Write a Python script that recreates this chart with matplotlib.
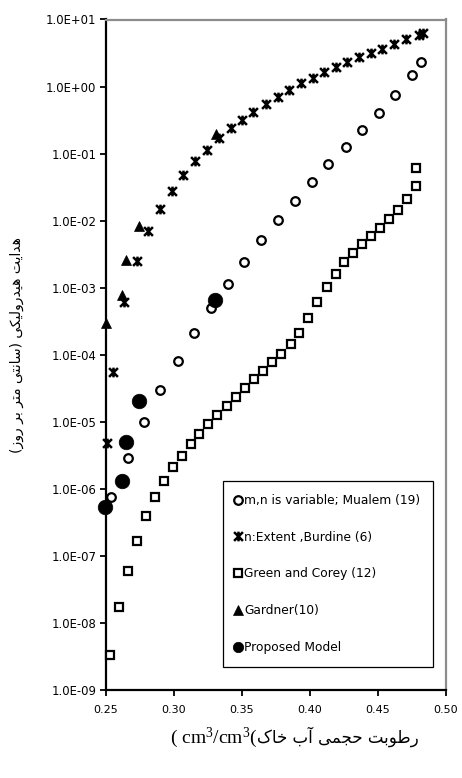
import matplotlib
matplotlib.use("Agg")
import matplotlib.pyplot as plt
from matplotlib.path import Path
from matplotlib.ticker import FixedLocator, FuncFormatter, NullLocator

plt.rcParams['mathtext.fontset'] = 'custom'
plt.rcParams['mathtext.rm'] = 'Liberation Serif'
plt.rcParams['mathtext.it'] = 'Liberation Serif'
plt.rcParams['mathtext.default'] = 'rm'

# ---------------- data ----------------
mualem_x = [0.2535, 0.266, 0.278, 0.290, 0.3027, 0.3148, 0.327, 0.340, 0.3515, 0.3641,
            0.3768, 0.3891, 0.4014, 0.4136, 0.4264, 0.4386, 0.4511, 0.4628, 0.4754, 0.4818]
mualem_y = [7.6e-7, 2.9e-6, 9.8e-6, 2.95e-5, 8.2e-5, 2.1e-4, 4.9e-4, 1.13e-3, 2.45e-3, 5.1e-3,
            1.02e-2, 1.99e-2, 3.73e-2, 6.9e-2, 1.27e-1, 2.25e-1, 4.07e-1, 7.48e-1, 1.49, 2.32]

burdine_x = [0.251, 0.2554, 0.2635, 0.2726, 0.2811, 0.2897, 0.2983, 0.3069, 0.3155, 0.3241,
             0.3334, 0.3418, 0.3503, 0.3584, 0.3675, 0.3763, 0.3849, 0.3935, 0.4021, 0.4106,
             0.4192, 0.4276, 0.4364, 0.445, 0.4536, 0.4621, 0.4712, 0.4803, 0.4835]
burdine_y = [4.9e-6, 5.5e-5, 6.2e-4, 2.5e-3, 7.0e-3, 1.48e-2, 2.8e-2, 4.86e-2, 7.8e-2, 0.114,
             0.169, 0.238, 0.317, 0.42, 0.55, 0.706, 0.89, 1.12, 1.36, 1.67,
             1.98, 2.35, 2.79, 3.2, 3.67, 4.27, 5.07, 5.87, 6.2]

green_x = [0.2529, 0.2596, 0.2659, 0.2726, 0.2792, 0.2858, 0.2929, 0.2995, 0.3062, 0.3125,
           0.3187, 0.3251, 0.3317, 0.3388, 0.3454, 0.3521, 0.3589, 0.3653, 0.3719, 0.379,
           0.3859, 0.3923, 0.3989, 0.4055, 0.4124, 0.419, 0.4251, 0.432, 0.4386, 0.445,
           0.4516, 0.4582, 0.4651, 0.4717, 0.4786, 0.4786]
green_y = [3.3e-9, 1.75e-8, 6.0e-8, 1.67e-7, 3.9e-7, 7.6e-7, 1.32e-6, 2.1e-6, 3.1e-6, 4.6e-6,
           6.6e-6, 9.3e-6, 1.28e-5, 1.74e-5, 2.37e-5, 3.23e-5, 4.35e-5, 5.8e-5, 7.7e-5, 1.03e-4,
           1.45e-4, 2.13e-4, 3.5e-4, 6.2e-4, 1.03e-3, 1.6e-3, 2.4e-3, 3.3e-3, 4.5e-3, 5.9e-3,
           7.9e-3, 1.06e-2, 1.44e-2, 2.1e-2, 3.29e-2, 6.17e-2]

gardner_x = [0.25, 0.2615, 0.2647, 0.2745, 0.3311]
gardner_y = [2.94e-4, 7.8e-4, 2.59e-3, 8.3e-3, 0.194]

proposed_x = [0.2495, 0.2618, 0.2647, 0.274, 0.3305]
proposed_y = [5.3e-7, 1.32e-6, 5.05e-6, 2.07e-5, 6.6e-4]

series_labels = ["m,n is variable; Mualem (19)", "n:Extent ,Burdine (6)",
                 "Green and Corey (12)", "Gardner(10)", "Proposed Model"]
x_ticks = [0.25, 0.30, 0.35, 0.40, 0.45, 0.50]
y_ticks = [1e-9, 1e-8, 1e-7, 1e-6, 1e-5, 1e-4, 1e-3, 1e-2, 1e-1, 1e0, 1e1]

y_label_text = "هدایت هیدرولیکی (سانتی متر بر روز)"
x_label_fa = "رطوبت حجمی آب خاک"
x_label_unit = r"( cm$^3$/cm$^3$("

# ---------------- minimal Persian shaping (visual order) ----------------
FORMS = {  # isolated, final, initial, medial
    'ا': ('\uFE8D', '\uFE8E', None, None),
    'آ': ('\uFE81', '\uFE82', None, None),
    'ب': ('\uFE8F', '\uFE90', '\uFE91', '\uFE92'),
    'ت': ('\uFE95', '\uFE96', '\uFE97', '\uFE98'),
    'ج': ('\uFE9D', '\uFE9E', '\uFE9F', '\uFEA0'),
    'ح': ('\uFEA1', '\uFEA2', '\uFEA3', '\uFEA4'),
    'خ': ('\uFEA5', '\uFEA6', '\uFEA7', '\uFEA8'),
    'د': ('\uFEA9', '\uFEAA', None, None),
    'ر': ('\uFEAD', '\uFEAE', None, None),
    'ز': ('\uFEAF', '\uFEB0', None, None),
    'س': ('\uFEB1', '\uFEB2', '\uFEB3', '\uFEB4'),
    'ط': ('\uFEC1', '\uFEC2', '\uFEC3', '\uFEC4'),
    'ل': ('\uFEDD', '\uFEDE', '\uFEDF', '\uFEE0'),
    'م': ('\uFEE1', '\uFEE2', '\uFEE3', '\uFEE4'),
    'ن': ('\uFEE5', '\uFEE6', '\uFEE7', '\uFEE8'),
    'ه': ('\uFEE9', '\uFEEA', '\uFEEB', '\uFEEC'),
    'و': ('\uFEED', '\uFEEE', None, None),
    'ی': ('\uFBFC', '\uFBFD', '\uFBFE', '\uFBFF'),
    'ک': ('\uFB8E', '\uFB8F', '\uFB90', '\uFB91'),
}


def shape(text):
    out = []
    n = len(text)
    for i, ch in enumerate(text):
        if ch not in FORMS:
            out.append(ch)
            continue
        f = FORMS[ch]
        prev = text[i - 1] if i > 0 else None
        nxt = text[i + 1] if i < n - 1 else None
        jp = prev in FORMS and FORMS[prev][2] is not None
        jn = f[2] is not None and nxt in FORMS
        if jp and jn:
            out.append(f[3])
        elif jp:
            out.append(f[1])
        elif jn:
            out.append(f[2])
        else:
            out.append(f[0])
    vis = ''.join(reversed(out))
    return vis.translate(str.maketrans({'(': ')', ')': '('}))


# ---------------- figure ----------------
fig = plt.figure(figsize=(4.62, 7.78), dpi=100)
ax = fig.add_axes([106 / 462, 1 - 690 / 778, (445.5 - 106) / 462, (690 - 19.5) / 778])

star = Path([(-1, -1), (1, 1), (-1, 1), (1, -1), (0, -1.1), (0, 1.1)],
            [Path.MOVETO, Path.LINETO, Path.MOVETO, Path.LINETO, Path.MOVETO, Path.LINETO])

ax.plot(mualem_x, mualem_y, linestyle='none', marker='o', markersize=6.2,
        markerfacecolor='white', markeredgecolor='black', markeredgewidth=1.6,
        label=series_labels[0], clip_on=False, zorder=3)
ax.plot(burdine_x, burdine_y, linestyle='none', marker=star, markersize=7,
        markerfacecolor='none', markeredgecolor='black', markeredgewidth=1.8,
        label=series_labels[1], clip_on=False, zorder=3)
ax.plot(green_x, green_y, linestyle='none', marker='s', markersize=6,
        markerfacecolor='white', markeredgecolor='black', markeredgewidth=1.6,
        label=series_labels[2], clip_on=False, zorder=3)
ax.plot(gardner_x, gardner_y, linestyle='none', marker='^', markersize=7.5,
        markerfacecolor='black', markeredgecolor='black', markeredgewidth=0.5,
        label=series_labels[3], clip_on=False, zorder=4)
ax.plot(proposed_x, proposed_y, linestyle='none', marker='o', markersize=10.5,
        markerfacecolor='black', markeredgecolor='black', markeredgewidth=0.5,
        label=series_labels[4], clip_on=False, zorder=5)

ax.set_yscale('log')
ax.set_xlim(0.25, 0.50)
ax.set_ylim(1e-9, 1e1)
ax.xaxis.set_major_locator(FixedLocator(x_ticks))
ax.yaxis.set_major_locator(FixedLocator(y_ticks))
ax.yaxis.set_minor_locator(NullLocator())
ax.xaxis.set_minor_locator(NullLocator())
ax.xaxis.set_major_formatter(FuncFormatter(lambda v, p: f"{v:.2f}"))
ax.yaxis.set_major_formatter(FuncFormatter(lambda v, p: f"{v:.1E}"))

for lab in ax.get_xticklabels():
    lab.set_fontfamily('DejaVu Sans')
    lab.set_fontsize(8)
for lab in ax.get_yticklabels():
    lab.set_fontfamily('DejaVu Sans')
    lab.set_fontsize(8.4)

ax.tick_params(axis='both', direction='out', length=4, width=1.3, color='black')
ax.tick_params(axis='y', pad=3)
ax.tick_params(axis='x', pad=7)

for side in ['left', 'bottom']:
    ax.spines[side].set_color('black')
    ax.spines[side].set_linewidth(1.6)
for side in ['top', 'right']:
    ax.spines[side].set_color('#8c8c8c')
    ax.spines[side].set_linewidth(1.6)

leg = ax.legend(loc='upper left', bbox_to_anchor=(223 / 462, 1 - 481 / 778),
                bbox_transform=fig.transFigure, borderaxespad=0, frameon=True,
                fancybox=False, framealpha=1, edgecolor='black',
                prop={'family': 'DejaVu Sans', 'size': 8.8},
                labelspacing=1.95, borderpad=1.05, handlelength=0.4,
                handletextpad=0.3, numpoints=1)
leg.get_frame().set_linewidth(0.9)
leg.legend_handles[4].set_markersize(7.5)

# axis labels
fig.text(17 / 462, 1 - 345 / 778, shape(y_label_text), rotation=90,
         ha='center', va='center', fontsize=10, family=['DejaVu Sans'])
fig.text(257 / 462, 1 - 743 / 778, x_label_unit,
         ha='right', va='baseline', fontsize=14, family='Liberation Serif')
fig.text(257 / 462, 1 - 743 / 778, shape(x_label_fa),
         ha='left', va='baseline', fontsize=12, family=['DejaVu Sans'])

fig.savefig('out.png', dpi=100)
